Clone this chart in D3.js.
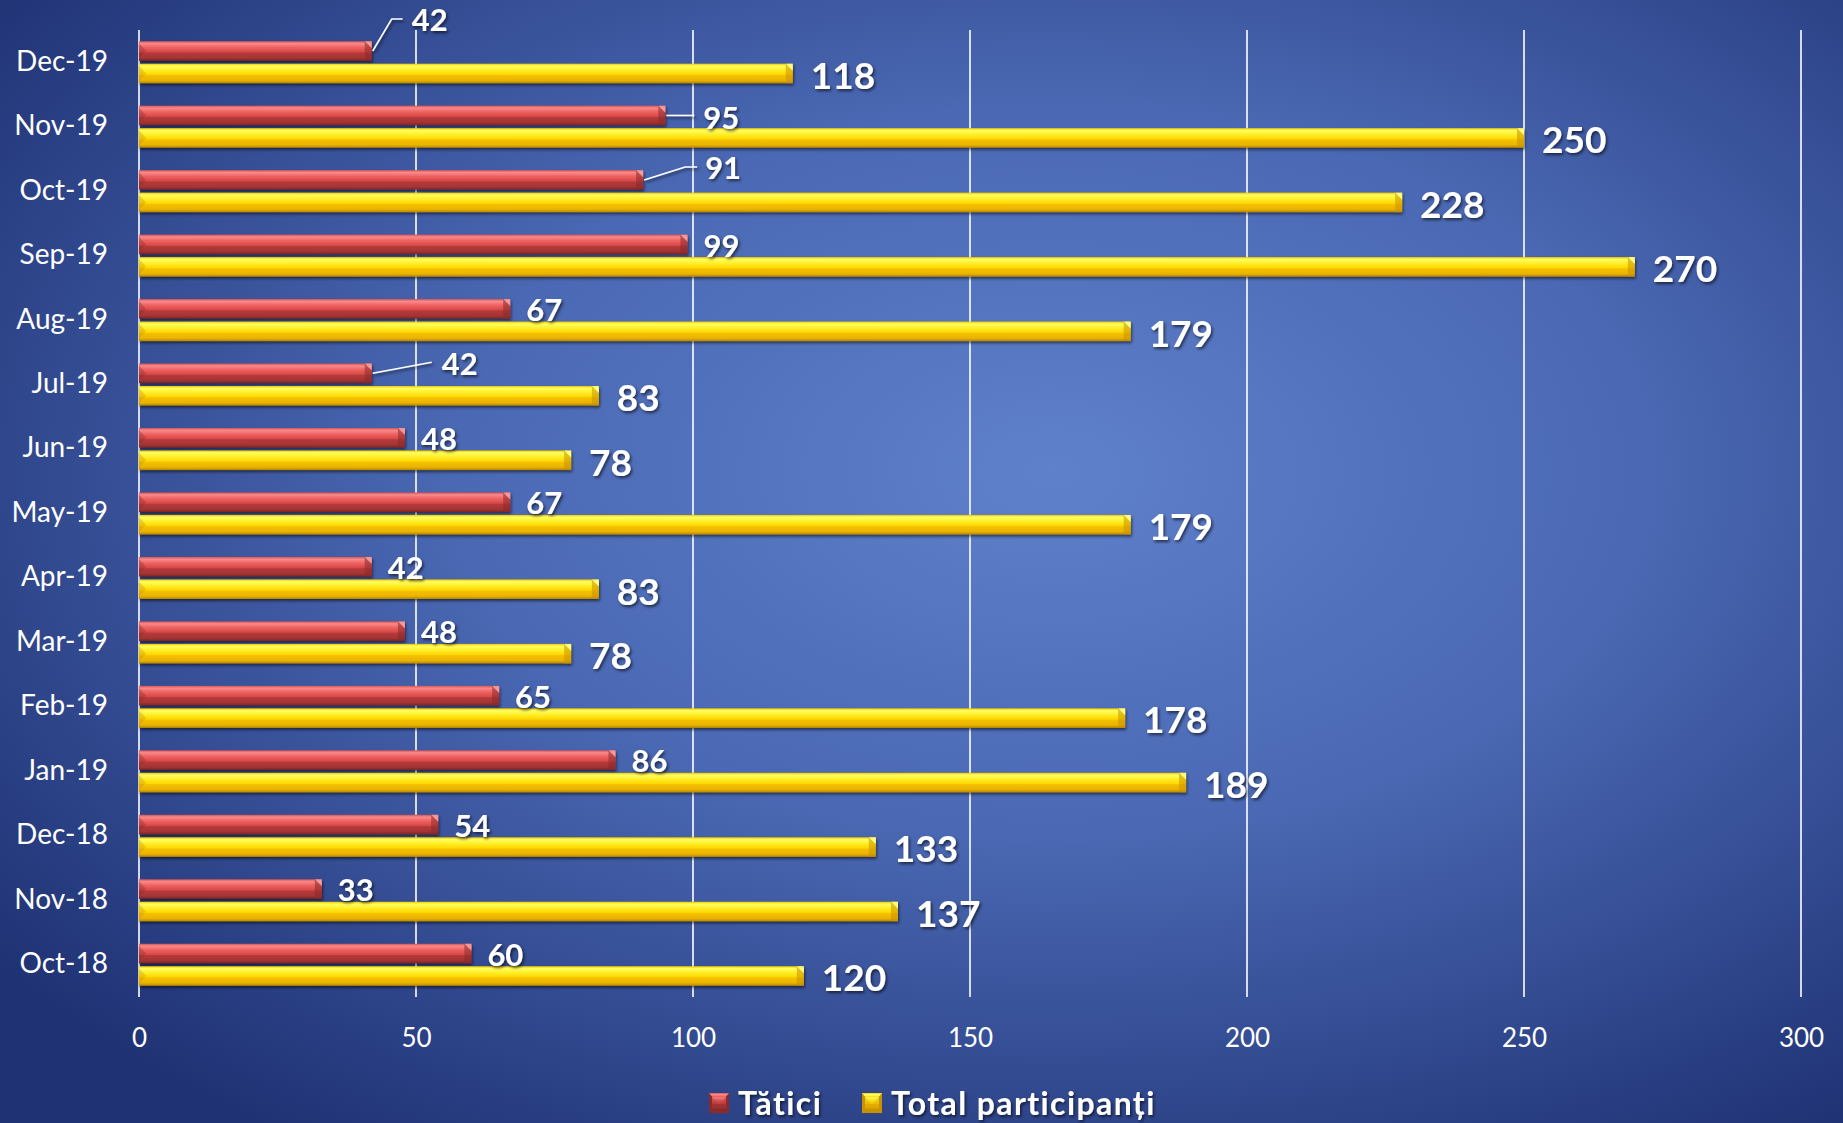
<!DOCTYPE html>
<html>
<head>
<meta charset="utf-8">
<script src="https://cdn.jsdelivr.net/npm/d3@7"></script>
<style>
  html, body { margin: 0; padding: 0; background: #22357a; }
  svg { display: block; }
</style>
</head>
<body>
<script>
// ---- data ----
const categories = ["Oct-18","Nov-18","Dec-18","Jan-19","Feb-19","Mar-19","Apr-19","May-19","Jun-19","Jul-19","Aug-19","Sep-19","Oct-19","Nov-19","Dec-19"];
const tatici = [60,33,54,86,65,48,42,67,48,42,67,99,91,95,42];
const totalParticipanti = [120,137,133,189,178,78,83,179,78,83,179,270,228,250,118];
const seriesNames = ["Tătici","Total participanți"];
const xTicks = [0,50,100,150,200,250,300];

// label placements with leader lines (pixel offsets from bar end)
const leaderLabels = {
  "Dec-19": {dx: 40, dy: -31, bend: [20, -32], end: [31, -32]},
  "Nov-19": {dx: 38, dy: 2, bend: [2, 0], end: [29, 0]},
  "Oct-19": {dx: 62, dy: -12, bend: [42, -13], end: [54, -13]},
  "Jul-19": {dx: 70, dy: -9, bend: [60, -11], end: [60, -11]}
};

const W = 1843, H = 1123;
const margin = {left: 139, right: 42, top: 30, bottom: 126};

const svg = d3.select("body").append("svg").attr("width", W).attr("height", H);
const defs = svg.append("defs");

// background radial gradient
const bg = defs.append("radialGradient").attr("id","bg")
  .attr("cx","0.57").attr("cy","0.42").attr("r","0.72")
  .attr("gradientUnits","objectBoundingBox");
bg.append("stop").attr("offset","0").attr("stop-color","#5f80cb");
bg.append("stop").attr("offset","0.45").attr("stop-color","#4a68b3");
bg.append("stop").attr("offset","1").attr("stop-color","#1f3274");
svg.append("rect").attr("width",W).attr("height",H).attr("fill","url(#bg)");

function vgrad(id, stops) {
  const g = defs.append("linearGradient").attr("id", id)
    .attr("x1",0).attr("y1",0).attr("x2",0).attr("y2",1);
  stops.forEach(s => g.append("stop").attr("offset", s[0]).attr("stop-color", s[1]));
}
vgrad("gRed", [[0,"#d85454"],[0.12,"#f98a8a"],[0.3,"#f06464"],[0.55,"#d84848"],[0.6,"#b53a3a"],[0.85,"#a53434"],[1,"#7e2525"]]);
vgrad("gYel", [[0,"#f0c800"],[0.12,"#ffff60"],[0.3,"#fff030"],[0.55,"#ffd800"],[0.6,"#f5c000"],[0.85,"#eab400"],[1,"#b88600"]]);

const shadow = defs.append("filter").attr("id","shadow").attr("x","-10%").attr("y","-30%").attr("width","120%").attr("height","180%");
shadow.append("feDropShadow").attr("dx",1).attr("dy",2).attr("stdDeviation",1.5).attr("flood-color","#000").attr("flood-opacity",0.55);
const tshadow = defs.append("filter").attr("id","tshadow").attr("x","-20%").attr("y","-20%").attr("width","140%").attr("height","150%");
tshadow.append("feDropShadow").attr("dx",1.5).attr("dy",2).attr("stdDeviation",1.5).attr("flood-color","#000").attr("flood-opacity",0.6);

const x = d3.scaleLinear().domain([0,300]).range([margin.left, W - margin.right]);
const y = d3.scaleBand().domain(categories.slice().reverse()).range([margin.top, H - margin.bottom]).paddingInner(0).paddingOuter(0);
const ySub = d3.scaleBand().domain([0,1]).range([0, y.bandwidth()]).paddingInner(0.13).paddingOuter(0.5);

const font = "Lato, 'Open Sans', sans-serif";

// gridlines
svg.append("g").selectAll("line").data(xTicks).join("line")
  .attr("x1", d => x(d)).attr("x2", d => x(d))
  .attr("y1", margin.top).attr("y2", H - margin.bottom)
  .attr("stroke", "#ffffff").attr("stroke-width", 1.6);

// x axis tick labels
const xAxis = d3.axisBottom(x).tickValues(xTicks).tickSize(0).tickPadding(0);
const gx = svg.append("g").attr("transform", `translate(0,${H - margin.bottom + 32})`).call(xAxis);
gx.select(".domain").remove();
gx.selectAll("text").attr("font-family", font).attr("font-size", 26).attr("fill", "#fff");

// y axis labels
const yAxis = d3.axisLeft(y).tickSize(0).tickPadding(0);
const gy = svg.append("g").attr("transform", `translate(${margin.left - 31},0)`).call(yAxis);
gy.select(".domain").remove();
gy.selectAll("text").attr("font-family", font).attr("font-size", 28).attr("fill", "#fff").attr("dy","0.3em");

// bars
const series = [
  {name: seriesNames[0], values: tatici, fill: "url(#gRed)", cap: "#8a2a2a", capLight:"#f5a0a0", idx: 0},
  {name: seriesNames[1], values: totalParticipanti, fill: "url(#gYel)", cap: "#c89200", capLight:"#ffff90", idx: 1}
];

const barsG = svg.append("g");
series.forEach(s => {
  const g = barsG.append("g").attr("filter","url(#shadow)");
  const data = categories.map((c,i) => ({c, v: s.values[i]}));
  const yy = d => y(d.c) + ySub(s.idx);
  const h = ySub.bandwidth();
  g.selectAll("rect").data(data).join("rect")
    .attr("x", x(0)).attr("y", yy)
    .attr("width", d => x(d.v) - x(0)).attr("height", h)
    .attr("fill", s.fill);
  // bevel end caps (chamfer)
  const b = Math.min(7, h/2);
  g.selectAll("path.capTop").data(data).join("path").attr("class","capTop")
    .attr("d", d => { const xe = x(d.v), y0 = yy(d); return `M${xe-b},${y0}L${xe},${y0}L${xe},${y0+b}Z`; })
    .attr("fill", s.capLight).attr("opacity",0.8);
  g.selectAll("path.capBot").data(data).join("path").attr("class","capBot")
    .attr("d", d => { const xe = x(d.v), y0 = yy(d); return `M${xe-b},${y0}L${xe},${y0+b}L${xe},${y0+h}L${xe-b},${y0+h}Z`; })
    .attr("fill", s.cap).attr("opacity",0.55);
  // left start small bevel
  g.selectAll("path.capL").data(data).join("path").attr("class","capL")
    .attr("d", d => { const xs = x(0), y0 = yy(d); return `M${xs},${y0+2}L${xs+b},${y0+h/2}L${xs},${y0+h-2}Z`; })
    .attr("fill", s.cap).attr("opacity",0.35);
});

// data labels
const labelsG = svg.append("g").attr("filter","url(#tshadow)");
// red labels
categories.forEach((c, i) => {
  const v = tatici[i];
  const xe = x(v);
  const yc = y(c) + ySub(0) + ySub.bandwidth()/2;
  const L = leaderLabels[c];
  if (L) {
    labelsG.append("polyline")
      .attr("points", [[xe+1, yc], [xe + L.bend[0], yc + L.bend[1]], [xe + L.end[0], yc + L.end[1]]].map(p => p.join(",")).join(" "))
      .attr("fill","none").attr("stroke","#fff").attr("stroke-width",1.6);
    labelsG.append("text").attr("x", xe + L.dx).attr("y", yc + L.dy).attr("dy","0.36em")
      .attr("font-family", font).attr("font-weight","bold").attr("font-size",31).attr("fill","#fff").text(v);
  } else {
    labelsG.append("text").attr("x", xe + 16).attr("y", yc + 1).attr("dy","0.36em")
      .attr("font-family", font).attr("font-weight","bold").attr("font-size",31).attr("fill","#fff").text(v);
  }
});
// yellow labels
categories.forEach((c, i) => {
  const v = totalParticipanti[i];
  const yc = y(c) + ySub(1) + ySub.bandwidth()/2;
  labelsG.append("text").attr("x", x(v) + 18).attr("y", yc + 2).attr("dy","0.36em")
    .attr("font-family", font).attr("font-weight","bold").attr("font-size",37).attr("fill","#fff").text(v);
});

// legend
const legend = svg.append("g");
const legItems = [
  {name: seriesNames[0], x: 709, fill: "url(#gRed)", cap:"#8a2a2a"},
  {name: seriesNames[1], x: 862, fill: "url(#gYel)", cap:"#c89200"}
];
legItems.forEach(it => {
  const g = legend.append("g").attr("transform", `translate(${it.x},1093)`);
  g.append("rect").attr("width",20).attr("height",20).attr("fill", it.cap);
  g.append("path").attr("d","M0,0L20,0L10,12Z").attr("fill", it.fill);
  g.append("rect").attr("x",3).attr("y",3).attr("width",14).attr("height",14).attr("fill", it.fill).attr("opacity",0.6);
  g.append("text").attr("x",29).attr("y",10).attr("dy","0.36em")
    .attr("font-family", font).attr("font-weight","bold").attr("font-size",32).attr("letter-spacing",1.4).attr("fill","#fff")
    .attr("filter","url(#tshadow)").text(it.name);
});
</script>
</body>
</html>
